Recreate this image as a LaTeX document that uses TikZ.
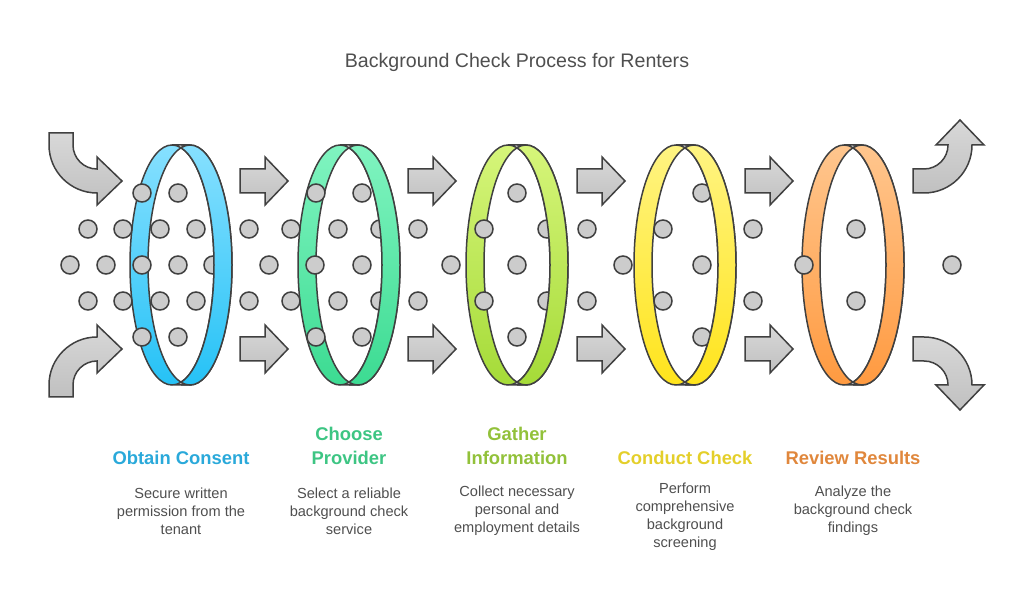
\documentclass[tikz,border=0pt]{standalone}
\usepackage{fontspec}
\setmainfont{Liberation Sans}
\usepackage{xcolor}
\usepackage{tikz}
\usetikzlibrary{positioning,calc}
\definecolor{trait}{HTML}{404040}
\definecolor{gris}{HTML}{CCCCCC}
\definecolor{grisA}{HTML}{D8D8D8}
\definecolor{grisB}{HTML}{C0C0C0}
\definecolor{texte}{HTML}{4F4F4F}
\definecolor{bleuA}{HTML}{86E0FF}\definecolor{bleuB}{HTML}{26C2F6}\definecolor{bleuT}{HTML}{2AA9DA}
\definecolor{vertA}{HTML}{80F4C0}\definecolor{vertB}{HTML}{3CDB92}\definecolor{vertT}{HTML}{3DC583}
\definecolor{citrA}{HTML}{D6F57A}\definecolor{citrB}{HTML}{A5DB38}\definecolor{citrT}{HTML}{92C13A}
\definecolor{jauA}{HTML}{FFF482}\definecolor{jauB}{HTML}{FFE41C}\definecolor{jauT}{HTML}{E4CF2A}
\definecolor{orA}{HTML}{FFC68E}\definecolor{orB}{HTML}{FF9A40}\definecolor{orT}{HTML}{E0873C}
\tikzset{
  bord/.style={draw=trait, line width=1.5pt},
  point/.style={draw=trait, fill=gris, line width=1.5pt},
  bloc/.style={draw=trait, line width=1.5pt, top color=grisA, bottom color=grisB, line join=miter},
  titre/.style={font=\fontsize{19.6}{23}\selectfont, text=texte},
  etape/.style={font=\bfseries\fontsize{18.4}{24}\selectfont, align=center},
  desc/.style={font=\fontsize{14.6}{18}\selectfont, text=texte, align=center},
}
% anneau : x centre, couleur haut, couleur bas
\newcommand{\anneau}[3]{%
  \path[even odd rule, top color=#2, bottom color=#3]
    (#1-9,338) ellipse[x radius=42, y radius=120] (#1+9,338) ellipse[x radius=42, y radius=120];
  \draw[bord] (#1-9,338) ellipse[x radius=42, y radius=120] (#1+9,338) ellipse[x radius=42, y radius=120]
    (#1-9,458) -- (#1+9,458) (#1-9,218) -- (#1+9,218);
}
\newcommand{\devant}[3]{%
  \begin{scope}
    \clip (#1,200) rectangle (#1+60,480);
    \anneau{#1}{#2}{#3}
  \end{scope}
}
\newcommand{\fleche}[2]{%
  \draw[bloc] (#1,#2-12) -- ++(25,0) -- ++(0,-12) -- ++(23,24) -- ++(-23,24) -- ++(0,-12) -- ++(-25,0) -- cycle;
}

\begin{document}
\begin{tikzpicture}[x=1pt, y=1pt]
\useasboundingbox (0,0) rectangle (1034,603);
\node[titre] (titre) at (517,541) {Background Check Process for Renters};

% anneaux (arriere)
\anneau{181}{bleuA}{bleuB}
\anneau{349}{vertA}{vertB}
\anneau{517}{citrA}{citrB}
\anneau{685}{jauA}{jauB}
\anneau{853}{orA}{orB}

% points
\foreach \x in {142,178,316,362,517,702} {
  \draw[point] (\x,410) circle[radius=9];
  \draw[point] (\x,266) circle[radius=9];
}
\foreach \x in {88,123,160,196,249,291,338,380,418,484,547,587,663,753,856} {
  \draw[point] (\x,374) circle[radius=9];
  \draw[point] (\x,302) circle[radius=9];
}
\foreach \x in {70,106,142,178,213,269,315,362,451,517,623,702,804,952}
  \draw[point] (\x,338) circle[radius=9];

% anneaux (avant)
\devant{181}{bleuA}{bleuB}
\devant{349}{vertA}{vertB}
\devant{517}{citrA}{citrB}
\devant{685}{jauA}{jauB}
\devant{853}{orA}{orB}

% fleches
\fleche{240}{422}\fleche{408}{422}\fleche{577}{422}\fleche{745}{422}
\fleche{240}{254}\fleche{408}{254}\fleche{577}{254}\fleche{745}{254}
\draw[bloc] (49,470) -- (49,458) arc[start angle=180, end angle=270, radius=48] -- (97,398) -- (122,422)
  -- (97,446) -- (97,434) arc[start angle=270, end angle=180, radius=24] -- (73,470) -- cycle;
\draw[bloc] (49,206) -- (49,218) arc[start angle=180, end angle=90, radius=48] -- (97,278) -- (122,254)
  -- (97,230) -- (97,242) arc[start angle=90, end angle=180, radius=24] -- (73,206) -- cycle;
\draw[bloc] (913,434) -- (924,434) arc[start angle=270, end angle=360, radius=24] -- (936,458) -- (960,483)
  -- (984,458) -- (972,458) arc[start angle=0, end angle=-90, radius=48] -- (913,410) -- cycle;
\draw[bloc] (913,242) -- (924,242) arc[start angle=90, end angle=0, radius=24] -- (936,218) -- (960,193)
  -- (984,218) -- (972,218) arc[start angle=0, end angle=90, radius=48] -- (913,266) -- cycle;

% etapes
\node[etape, text=bleuT] (lab1) at (181,145) {Obtain Consent};
\node[etape, text=vertT] (lab2) at (349,157) {Choose\\Provider};
\node[etape, text=citrT] (lab3) at (517,157) {Gather\\Information};
\node[etape, text=jauT] (lab4) at (685,145) {Conduct Check};
\node[etape, text=orT] (lab5) at (853,145) {Review Results};

\node[desc] (desc1) at (181,92) {Secure written\\permission from the\\tenant};
\node[desc] (desc2) at (349,92) {Select a reliable\\background check\\service};
\node[desc] (desc3) at (517,92) {Collect necessary\\personal and\\employment details};
\node[desc] (desc4) at (685,86) {Perform\\comprehensive\\background\\screening};
\node[desc] (desc5) at (853,92) {Analyze the\\background check\\findings};
\end{tikzpicture}
\end{document}
